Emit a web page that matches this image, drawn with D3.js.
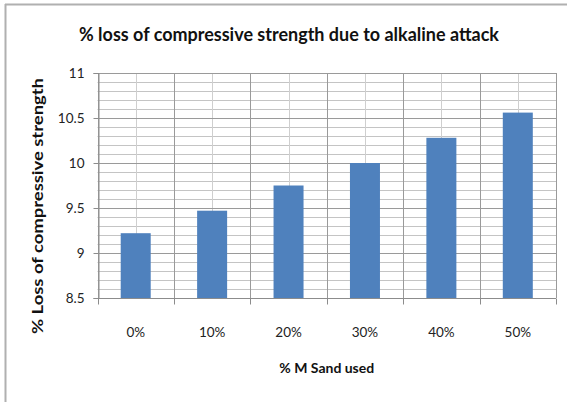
<!DOCTYPE html>
<html><head><meta charset="utf-8">
<script src="https://cdn.jsdelivr.net/npm/d3@7"></script>
<style>
body{margin:0;background:#fff;}
svg{display:block;font-family:Lato, "Open Sans", sans-serif;}
</style></head>
<body>
<svg id="c" width="567" height="402"></svg>
<script>
const categories = ["0%","10%","20%","30%","40%","50%"];
const values = [9.22, 9.47, 9.75, 10.0, 10.28, 10.56];
const yTicks = [8.5, 9, 9.5, 10, 10.5, 11];
const yTickLabels = ["8.5","9","9.5","10","10.5","11"];
const title = "% loss of compressive strength due to alkaline attack";
const xTitle = "% M Sand  used";
const yTitle = "% Loss of compressive strength";

const svg = d3.select("#c");
const m = {left:97.5, right:556, top:73, bottom:298};

// outer frame (top and left edges)
svg.append("line").attr("x1",5).attr("x2",567).attr("y1",4.5).attr("y2",4.5).attr("stroke","#b0b0b0").attr("stroke-width",2);
svg.append("line").attr("x1",5.5).attr("x2",5.5).attr("y1",4).attr("y2",402).attr("stroke","#b0b0b0").attr("stroke-width",2);

const x = d3.scaleBand().domain(categories).range([m.left, m.right]).paddingInner(0).paddingOuter(0);
const y = d3.scaleLinear().domain([8.5, 11]).range([m.bottom, m.top]);

// minor horizontal grid
const minor = d3.range(85, 111).map(v => v/10);
svg.append("g").selectAll("line").data(minor.filter(v => Math.abs(v*2 - Math.round(v*2)) > 1e-6)).join("line")
  .attr("x1", m.left).attr("x2", m.right)
  .attr("y1", d => Math.round(y(d))+0.5).attr("y2", d => Math.round(y(d))+0.5)
  .attr("stroke","#c4c4c4").attr("stroke-width",1);
// minor vertical grid at category centers
svg.append("g").selectAll("line").data(categories).join("line")
  .attr("x1", d => Math.round(x(d)+x.bandwidth()/2)+0.5).attr("x2", d => Math.round(x(d)+x.bandwidth()/2)+0.5)
  .attr("y1", m.top).attr("y2", m.bottom)
  .attr("stroke","#cfcfcf").attr("stroke-width",1);
// major horizontal grid
svg.append("g").selectAll("line").data(yTicks).join("line")
  .attr("x1", m.left).attr("x2", m.right)
  .attr("y1", d => Math.round(y(d))+0.5).attr("y2", d => Math.round(y(d))+0.5)
  .attr("stroke","#9a9a9a").attr("stroke-width",1);
// major vertical grid at category boundaries
const bounds = categories.map(c => x(c)).concat([m.right]);
svg.append("g").selectAll("line").data(bounds).join("line")
  .attr("x1", d => Math.round(d)+0.5).attr("x2", d => Math.round(d)+0.5)
  .attr("y1", m.top).attr("y2", m.bottom)
  .attr("stroke","#9a9a9a").attr("stroke-width",1);

// bars
const bw = 30;
svg.append("g").selectAll("rect").data(values).join("rect")
  .attr("x", (d,i) => x(categories[i]) + x.bandwidth()/2 - bw/2)
  .attr("width", bw)
  .attr("y", d => y(d))
  .attr("height", d => y(8.5) - y(d))
  .attr("fill","#4f81bd");

// y axis
const yAxis = d3.axisLeft(y).tickValues(yTicks).tickFormat((d,i) => yTickLabels[i]).tickSize(5).tickPadding(9);
const gy = svg.append("g").attr("transform",`translate(${Math.round(m.left)+0.5},0)`).call(yAxis);
gy.select(".domain").attr("stroke","#8c8c8c");
gy.selectAll(".tick line").attr("stroke","#8c8c8c");
gy.selectAll(".tick text").attr("font-size",13.5).attr("fill","#222").attr("font-family","Lato, sans-serif");

// x axis
const gx = svg.append("g").attr("transform",`translate(0,${Math.round(m.bottom)+0.5})`);
gx.append("line").attr("x1",m.left).attr("x2",m.right).attr("stroke","#8c8c8c");
gx.selectAll(".tk").data(bounds).join("line").attr("class","tk")
  .attr("x1", d => Math.round(d)+0.5).attr("x2", d => Math.round(d)+0.5)
  .attr("y1",0).attr("y2",6).attr("stroke","#8c8c8c");
gx.selectAll("text").data(categories).join("text")
  .attr("x", d => x(d)+x.bandwidth()/2)
  .attr("y", 38)
  .attr("text-anchor","middle")
  .attr("font-size",13.5).attr("fill","#222")
  .text(d => d);

// titles
svg.append("text").attr("x",289).attr("y",41).attr("text-anchor","middle")
  .attr("font-size",18).attr("font-weight","bold").attr("fill","#111")
  .attr("textLength",420).attr("lengthAdjust","spacingAndGlyphs").text(title);
svg.append("text").attr("x",(m.left+m.right)/2).attr("y",373).attr("text-anchor","middle")
  .attr("font-size",14).attr("font-weight","bold").attr("fill","#111").text(xTitle);
svg.append("text").attr("transform","translate(43,206) rotate(-90)").attr("text-anchor","middle")
  .attr("font-size",15).attr("font-weight","bold").attr("fill","#111")
  .attr("textLength",256).attr("lengthAdjust","spacingAndGlyphs").text(yTitle);
</script>
</body></html>
